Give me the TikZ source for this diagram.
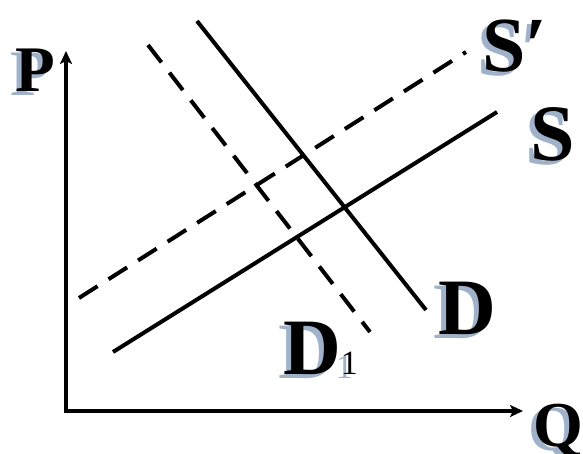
\documentclass[tikz,border=0pt]{standalone}
\usepackage{fontspec}
\setmainfont{Liberation Serif}
\usetikzlibrary{arrows.meta}
\definecolor{shade}{RGB}{128,152,184}
\begin{document}
\begin{tikzpicture}[x=1pt,y=1pt,
  curve/.style={line width=4pt},
  dashcurve/.style={line width=4pt, dash pattern=on 22pt off 13pt},
  axis/.style={line width=4pt, {Stealth[length=13pt,width=12pt,inset=3pt]}-{Stealth[length=13pt,width=12pt,inset=3pt]}},
  lbl/.style={inner sep=0pt, anchor=base west, font=\bfseries\fontsize{80}{80}\selectfont},
  shd/.style={lbl, text=shade, opacity=0.75}]
\useasboundingbox (0,0) rectangle (583,454);
% axes
\coordinate (ytop) at (66,403);
\coordinate (O) at (66,43);
\coordinate (xend) at (523,43);
\draw[axis] (ytop) -- (O) -- (xend);
% curves
\coordinate (s1) at (113,102); \coordinate (s2) at (497,342);
\coordinate (sp1) at (79,156); \coordinate (sp2) at (466,402);
\coordinate (d1) at (197,433); \coordinate (d2) at (426,144);
\coordinate (dd1) at (148,409); \coordinate (dd2) at (370,122);
\draw[curve] (s1) -- (s2);
\draw[dashcurve] (sp1) -- (sp2);
\draw[curve] (d1) -- (d2);
\draw[dashcurve] (dd1) -- (dd2);
% labels: shadows
\node[shd, font=\bfseries\fontsize{65}{65}\selectfont] (Psh) at (10,358) {P};
\node[shd, font=\bfseries\fontsize{78}{78}\selectfont] (Spsh) at (477,378) {S′};
\node[shd] (Ssh) at (525,289) {S};
\node[shd] (Dsh) at (433,115) {D};
\node[shd] (D1sh) at (278,75) {D{\mdseries\fontsize{34}{34}\selectfont 1}};
\node[shd, font=\bfseries\fontsize{64}{64}\selectfont] (Qsh) at (528,3) {Q};
% labels
\node[lbl, font=\bfseries\fontsize{65}{65}\selectfont] (P) at (15,362) {P};
\node[lbl, font=\bfseries\fontsize{78}{78}\selectfont] (Sp) at (482,382) {S′};
\node[lbl] (S) at (530,293) {S};
\node[lbl] (D) at (438,119) {D};
\node[lbl] (D1) at (283,79) {D{\mdseries\fontsize{34}{34}\selectfont 1}};
\node[lbl, font=\bfseries\fontsize{64}{64}\selectfont] (Q) at (533,7) {Q};
\end{tikzpicture}
\end{document}
